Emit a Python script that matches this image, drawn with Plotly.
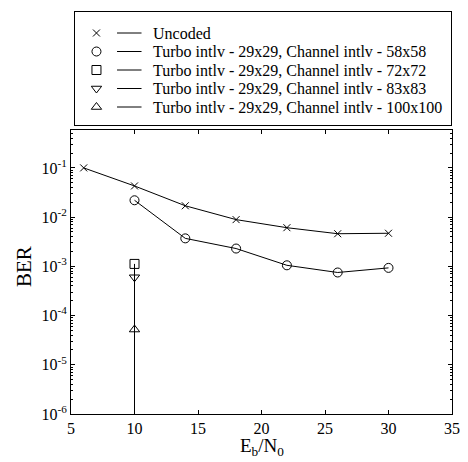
import plotly.graph_objects as go

# ---- data ----
snr = [6, 10, 14, 18, 22, 26, 30]
ber_uncoded = [0.10, 0.043, 0.017, 0.0089, 0.0061, 0.0046, 0.0047]
snr_58 = [10, 14, 18, 22, 26, 30]
ber_58 = [0.022, 0.0037, 0.0023, 0.00105, 0.00075, 0.00093]
snr_72 = [10, 10]
ber_72 = [0.00112, 1e-9]
snr_83 = [10, 10]
ber_83 = [0.0006, 1e-9]
snr_100 = [10, 10]
ber_100 = [5.2e-5, 1e-9]

legend_labels = [
    "Uncoded",
    "Turbo intlv - 29x29, Channel intlv - 58x58",
    "Turbo intlv - 29x29, Channel intlv - 72x72",
    "Turbo intlv - 29x29, Channel intlv - 83x83",
    "Turbo intlv - 29x29, Channel intlv - 100x100",
]
symbols = ["x-thin-open", "circle-open", "square-open", "triangle-down-open", "triangle-up-open"]
x_ticks = [5, 10, 15, 20, 25, 30, 35]
y_exps = [-6, -5, -4, -3, -2, -1]
minor_mults = [2, 3, 4, 5, 6, 7, 8, 9]

FONT = "Liberation Serif, Times New Roman, serif"
W, H = 468, 462
ML, MR, MT, MB = 71, 8, 12, 48
plot_h = H - MT - MB
plot_w = W - ML - MR
frame_top = 130
leg_left, leg_right, leg_top, leg_bot = 75, 459, 12, 125

fig = go.Figure()

series = [
    (snr, ber_uncoded, symbols[0], 7),
    (snr_58, ber_58, symbols[1], 9),
    (snr_72, ber_72, symbols[2], 9),
    (snr_83, ber_83, symbols[3], 9),
    (snr_100, ber_100, symbols[4], 9),
]
for (xs, ys, sym, sz), name in zip(series, legend_labels):
    fig.add_trace(go.Scatter(
        x=xs, y=ys, mode="lines+markers", name=name, showlegend=False,
        line=dict(color="black", width=1),
        marker=dict(symbol=sym, size=sz, color="black", line=dict(width=1, color="black")),
    ))

# ---- custom legend on an overlay axis (pixel-like coordinates) ----
rows = [33, 51.5, 70, 88.5, 107]
annotations = []
for lab, sym, ry in zip(legend_labels, symbols, rows):
    fig.add_trace(go.Scatter(
        x=[97], y=[ry], mode="markers", xaxis="x2", yaxis="y2", showlegend=False,
        marker=dict(symbol=sym, size=9 if sym != "x-thin-open" else 7, color="black",
                    line=dict(width=1, color="black")),
        hoverinfo="skip",
    ))
    fig.add_trace(go.Scatter(
        x=[118, 143], y=[ry, ry], mode="lines", xaxis="x2", yaxis="y2", showlegend=False,
        line=dict(color="black", width=1), hoverinfo="skip",
    ))
    annotations.append(dict(
        x=153, y=ry, xref="x2", yref="y2", text=lab, showarrow=False,
        xanchor="left", yanchor="middle",
        font=dict(family=FONT, size=16, color="black"),
    ))

# axis titles
annotations.append(dict(
    x=0.5, y=(H - MB - 461) / plot_h, xref="paper", yref="paper",
    text="E<sub>b</sub>/N<sub>0</sub>", showarrow=False,
    xanchor="center", yanchor="bottom", font=dict(family=FONT, size=19, color="black"),
))
annotations.append(dict(
    x=(23 - ML) / plot_w, y=(H - MB - 266) / plot_h, xref="paper", yref="paper",
    text="BER", showarrow=False, textangle=-90,
    xanchor="center", yanchor="middle", font=dict(family=FONT, size=21, color="black"),
))

ydom_top = (H - MB - frame_top) / plot_h
fig.update_layout(
    width=W, height=H,
    margin=dict(l=ML, r=MR, t=MT, b=MB),
    paper_bgcolor="white", plot_bgcolor="white",
    font=dict(family=FONT, size=16, color="black"),
    annotations=annotations,
    xaxis=dict(
        domain=[0, 1], range=[5, 35], tickvals=x_ticks,
        ticks="inside", ticklen=4, tickwidth=1, tickcolor="black",
        showline=True, linecolor="black", linewidth=1, mirror="ticks",
        showgrid=False, zeroline=False,
        tickfont=dict(family=FONT, size=16),
    ),
    yaxis=dict(
        domain=[0, ydom_top], type="log", range=[-6, -0.23],
        tickvals=[10 ** e for e in y_exps],
        ticktext=[f"10<sup>{e}</sup>" for e in y_exps],
        ticks="inside", ticklen=4, tickwidth=1, tickcolor="black",
        showline=True, linecolor="black", linewidth=1, mirror="ticks",
        showgrid=False, zeroline=False,
        tickfont=dict(family=FONT, size=16),
        minor=dict(
            tickmode="array",
            tickvals=[m * 10 ** e for e in y_exps + [0] for m in minor_mults],
            ticks="inside", ticklen=2, tickcolor="black", showgrid=False,
        ),
    ),
    xaxis2=dict(
        domain=[(leg_left - ML) / plot_w, (leg_right - ML) / plot_w],
        range=[leg_left, leg_right], anchor="y2",
        showline=True, linecolor="black", linewidth=1, mirror=True,
        showgrid=False, zeroline=False, showticklabels=False, ticks="",
    ),
    yaxis2=dict(
        domain=[(H - MB - leg_bot) / plot_h, (H - MB - leg_top) / plot_h],
        range=[leg_bot, leg_top], anchor="x2",
        showline=True, linecolor="black", linewidth=1, mirror=True,
        showgrid=False, zeroline=False, showticklabels=False, ticks="",
    ),
)

fig.write_html("out.html", config={"displayModeBar": False},
               post_script="document.body.style.margin='0';")
